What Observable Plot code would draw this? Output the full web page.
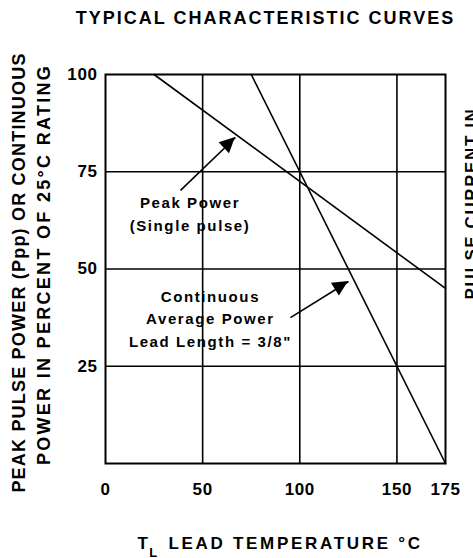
<!DOCTYPE html>
<html>
<head>
<meta charset="utf-8">
<script src="https://cdn.jsdelivr.net/npm/d3@7"></script>
<script src="https://cdn.jsdelivr.net/npm/@observablehq/plot@0.6"></script>
<style>
  html, body { margin: 0; padding: 0; background: white; }
  svg text { letter-spacing: 1.6px; }
  g[aria-label="x-axis tick label"] text, g[aria-label="y-axis tick label"] text { letter-spacing: 0.6px; }
</style>
</head>
<body>
<div id="chart"></div>
<script>
// ---- data ----
const xTicks = [0, 50, 100, 150, 175];
const yTicks = [25, 50, 75, 100];
const gridXValues = [50, 100, 150];
const gridYValues = [25, 50, 75];

// Peak Power (single pulse) derating: % of 25°C rating vs lead temperature
const peakTemp = [25, 175];
const peakPct = [100, 45];
// Continuous average power derating
const contTemp = [75, 175];
const contPct = [100, 0];

// annotations
const labelText = ["Peak Power\n(Single pulse)", "Continuous\nAverage Power\nLead Length = 3/8\""];
const labelTemp = [43.5, 54];
const labelPct = [64.6, 37.7];
const arrowFromTemp = [38.6, 95.2];
const arrowFromPct = [70.2, 37.5];
const arrowToTemp = [66.9, 125.1];
const arrowToPct = [83.8, 46.8];

const titleText = "TYPICAL CHARACTERISTIC CURVES";
const yLabel1 = "PEAK PULSE POWER (Ppp) OR CONTINUOUS";
const yLabel2 = "POWER IN PERCENT OF 25°C RATING";
const rightLabel = "PULSE CURRENT IN";
const xLabelT = "T";
const xLabelSub = "L";
const xLabelRest = "LEAD TEMPERATURE °C";

// ---- tables ----
const peak = peakTemp.map((t, i) => ({t, p: peakPct[i]}));
const cont = contTemp.map((t, i) => ({t, p: contPct[i]}));
const labels = labelText.map((s, i) => ({s, t: labelTemp[i], p: labelPct[i]}));
const arrows = arrowFromTemp.map((t, i) => ({t1: t, p1: arrowFromPct[i], t2: arrowToTemp[i], p2: arrowToPct[i]}));

const font = "Liberation Sans, Arial, Helvetica, sans-serif";

function arrowHeads(index, scales) {
  const sx = scales.x, sy = scales.y;
  const g = d3.create("svg:g").attr("aria-label", "arrowheads");
  const L = 15.5, W = 7.5;
  for (const a of arrows) {
    const x1 = sx(a.t1), y1 = sy(a.p1), x2 = sx(a.t2), y2 = sy(a.p2);
    const dx = x2 - x1, dy = y2 - y1, len = Math.hypot(dx, dy);
    const ux = dx / len, uy = dy / len;
    const bx = x2 - ux * L, by = y2 - uy * L;
    const pts = [[x2, y2], [bx - uy * W, by + ux * W], [bx + uy * W, by - ux * W]];
    g.append("polygon").attr("points", pts.map(p => p.join(",")).join(" ")).attr("fill", "black");
  }
  return g.node();
}

const chart = Plot.plot({
  width: 473,
  height: 558,
  marginLeft: 105,
  marginRight: 28,
  marginTop: 74,
  marginBottom: 95,
  style: {fontFamily: font, fontWeight: "bold", background: "white", color: "black", overflow: "visible"},
  x: {domain: [0, 175]},
  y: {domain: [0, 100]},
  marks: [
    Plot.gridX(gridXValues, {stroke: "black", strokeOpacity: 1, strokeWidth: 1.6}),
    Plot.gridY(gridYValues, {stroke: "black", strokeOpacity: 1, strokeWidth: 1.6}),
    Plot.frame({stroke: "black", strokeWidth: 2}),
    Plot.line(peak, {x: "t", y: "p", stroke: "black", strokeWidth: 1.6}),
    Plot.line(cont, {x: "t", y: "p", stroke: "black", strokeWidth: 1.6}),
    Plot.link(arrows, {x1: "t1", y1: "p1", x2: "t2", y2: "p2", stroke: "black", strokeWidth: 1.6}),
    arrowHeads,
    Plot.text(labels, {x: "t", y: "p", text: "s", fontSize: 15, lineHeight: 1.5, fill: "black"}),
    Plot.axisX({ticks: xTicks, tickSize: 0, tickPadding: 19, fontSize: 17, label: null, tickFormat: d => String(d)}),
    Plot.axisY({ticks: yTicks, tickSize: 0, tickPadding: 8, fontSize: 17, label: null, tickFormat: d => String(d)}),
    Plot.text([titleText], {text: d => d, frameAnchor: "top", textAnchor: "middle", lineAnchor: "middle", dx: -10, dy: -56, fontSize: 18}),
    Plot.text([yLabel1], {text: d => d, frameAnchor: "left", textAnchor: "middle", lineAnchor: "middle", rotate: -90, dx: -86.5, dy: 3.5, fontSize: 18}),
    Plot.text([yLabel2], {text: d => d, frameAnchor: "left", textAnchor: "middle", lineAnchor: "middle", rotate: -90, dx: -61, dy: -4.5, fontSize: 18}),
    Plot.text([rightLabel], {text: d => d, frameAnchor: "right", textAnchor: "middle", lineAnchor: "middle", rotate: -90, dx: 26, dy: -65.5, fontSize: 17}),
    Plot.text([xLabelT], {text: d => d, frameAnchor: "bottom-left", textAnchor: "middle", lineAnchor: "middle", dx: 38, dy: 80, fontSize: 17}),
    Plot.text([xLabelSub], {text: d => d, frameAnchor: "bottom-left", textAnchor: "middle", lineAnchor: "middle", dx: 48.5, dy: 89, fontSize: 13}),
    Plot.text([xLabelRest], {text: d => d, frameAnchor: "bottom-left", textAnchor: "start", lineAnchor: "middle", dx: 63, dy: 80, fontSize: 17})
  ]
});

// per-label letter spacing (tracking) to match the reference typesetting
const tracking = new Map([
  [titleText, "2px"],
  [yLabel1, "1.2px"],
  [yLabel2, "2.3px"],
  [xLabelRest, "2.7px"]
]);
d3.select(chart).selectAll("text").each(function () {
  const t = this.textContent;
  if (tracking.has(t)) this.style.letterSpacing = tracking.get(t);
});
document.getElementById("chart").appendChild(chart);
</script>
</body>
</html>
